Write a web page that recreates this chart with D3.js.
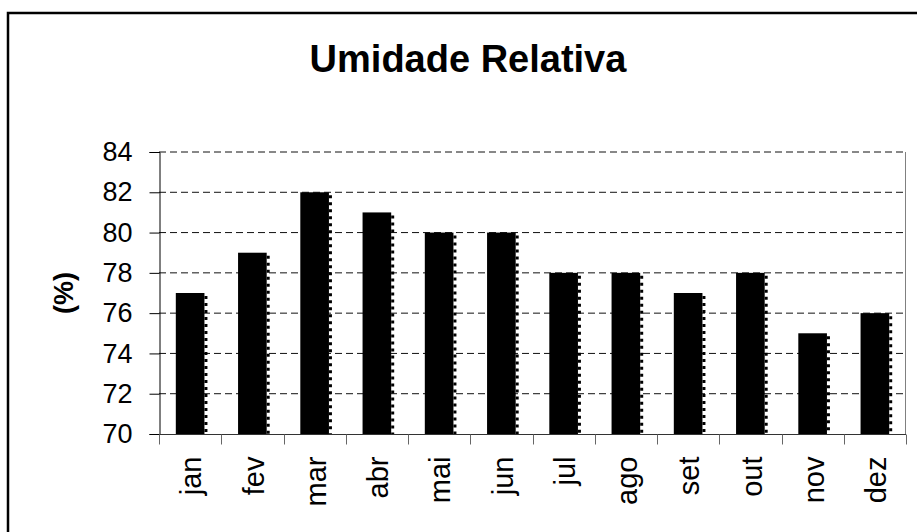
<!DOCTYPE html>
<html>
<head>
<meta charset="utf-8">
<script src="https://cdn.jsdelivr.net/npm/d3@7"></script>
<style>
    body { margin: 0; background: #fff; }
    text { font-family: "Liberation Sans", Arial, sans-serif; fill: #000; }
</style>
</head>
<body>
<div id="chart"></div>
<script>
var months = ["jan", "fev", "mar", "abr", "mai", "jun", "jul", "ago", "set", "out", "nov", "dez"];
var humidity = [77, 79, 82, 81, 80, 80, 78, 78, 77, 78, 75, 76];
var yTicks = [70, 72, 74, 76, 78, 80, 82, 84];
var titleText = "Umidade Relativa";
var yTitle = "(%)";

var width = 917;
var height = 532;
var plot = { left: 159, right: 906, top: 152, bottom: 434 };

var svg = d3.select("#chart")
    .append("svg")
    .attr("width", width)
    .attr("height", height);

// outer frame, runs off the right and bottom edges like the original
svg.append("rect")
    .attr("x", 8)
    .attr("y", 13)
    .attr("width", width + 10)
    .attr("height", height + 10)
    .attr("fill", "none")
    .attr("stroke", "#000")
    .attr("stroke-width", 2.5);

var x = d3.scaleBand()
    .domain(months)
    .range([plot.left, plot.right])
    .paddingInner(0.54)
    .paddingOuter(0.27);

var xCat = d3.scaleBand()
    .domain(months)
    .range([plot.left, plot.right]);

var y = d3.scaleLinear()
    .domain([70, 84])
    .range([plot.bottom, plot.top]);

// dashed gridlines
svg.append("g")
    .selectAll("line")
    .data(yTicks.filter(function (d) { return d !== 70; }))
    .enter()
    .append("line")
    .attr("x1", plot.left)
    .attr("x2", plot.right)
    .attr("y1", function (d) { return y(d); })
    .attr("y2", function (d) { return y(d); })
    .attr("stroke", "#111")
    .attr("stroke-dasharray", "7,4");

// right edge of the plot area
svg.append("line")
    .attr("x1", plot.right - 0.5)
    .attr("x2", plot.right - 0.5)
    .attr("y1", plot.top)
    .attr("y2", plot.bottom)
    .attr("stroke", "#808080");

// bars
var bars = svg.append("g")
    .selectAll("g")
    .data(humidity)
    .enter()
    .append("g");

bars.append("rect")
    .attr("x", function (d, i) { return x(months[i]); })
    .attr("y", function (d) { return y(d); })
    .attr("width", x.bandwidth())
    .attr("height", function (d) { return y(70) - y(d); })
    .attr("fill", "#000");

// dithered right edge
bars.append("line")
    .attr("x1", function (d, i) { return x(months[i]) + x.bandwidth() + 1.5; })
    .attr("x2", function (d, i) { return x(months[i]) + x.bandwidth() + 1.5; })
    .attr("y1", function (d) { return y(d) + 3; })
    .attr("y2", y(70))
    .attr("stroke", "#000")
    .attr("stroke-width", 3)
    .attr("stroke-dasharray", "3,4");

// y axis
var yAxis = svg.append("g")
    .attr("transform", "translate(" + (plot.left + 0.5) + ",0)")
    .call(d3.axisLeft(y).tickValues(yTicks).tickSize(10).tickPadding(17).tickFormat(d3.format("d")));

yAxis.select(".domain").attr("stroke", "#000");
yAxis.selectAll(".tick line").attr("stroke", "#000");
yAxis.selectAll("text")
    .style("font-size", "27px")
    .style("font-family", "'Liberation Sans', Arial, sans-serif")
    .attr("fill", "#000");

// x axis
var xAxis = svg.append("g")
    .attr("transform", "translate(0," + (plot.bottom + 0.5) + ")");

xAxis.append("line")
    .attr("x1", plot.left)
    .attr("x2", plot.right)
    .attr("stroke", "#333");

xAxis.selectAll("line.tick")
    .data(months.concat(["end"]))
    .enter()
    .append("line")
    .attr("class", "tick")
    .attr("x1", function (d, i) { return Math.round(plot.left + i * xCat.step()) + 0.5; })
    .attr("x2", function (d, i) { return Math.round(plot.left + i * xCat.step()) + 0.5; })
    .attr("y1", 0)
    .attr("y2", 10)
    .attr("stroke", "#666");

xAxis.selectAll("text")
    .data(months)
    .enter()
    .append("text")
    .attr("transform", function (d) {
        return "translate(" + (xCat(d) + xCat.bandwidth() / 2 + 1) + ",22) rotate(-90)";
    })
    .attr("text-anchor", "end")
    .attr("dy", "0.35em")
    .style("font-size", "29px")
    .text(function (d) { return d; });

// axis title
svg.append("text")
    .attr("transform", "translate(64,293) rotate(-90)")
    .attr("text-anchor", "middle")
    .attr("dy", "0.35em")
    .style("font-size", "27px")
    .style("font-weight", "bold")
    .text(yTitle);

// chart title
svg.append("text")
    .attr("x", 468)
    .attr("y", 72)
    .attr("text-anchor", "middle")
    .style("font-size", "38px")
    .style("font-weight", "bold")
    .text(titleText);
</script>
</body>
</html>
